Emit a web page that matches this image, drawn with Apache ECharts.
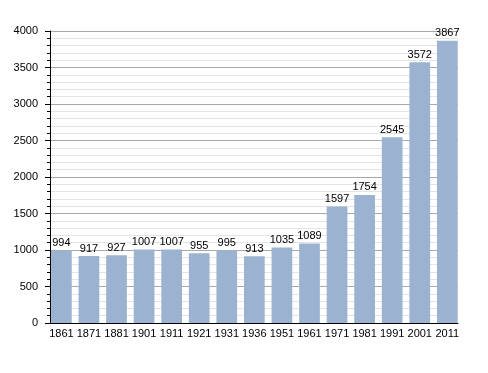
<!DOCTYPE html>
<html>
<head>
<meta charset="utf-8">
<script src="https://cdn.jsdelivr.net/npm/echarts@6/dist/echarts.min.js"></script>
<style>html,body{margin:0;padding:0;background:#fff}#c{width:488px;height:373px}</style>
</head>
<body>
<div id="c"></div>
<script>
const categories = ['1861','1871','1881','1901','1911','1921','1931','1936','1951','1961','1971','1981','1991','2001','2011'];
const population = [994, 917, 927, 1007, 1007, 955, 995, 913, 1035, 1089, 1597, 1754, 2545, 3572, 3867];
const yMin = 0, yMax = 4000, yStep = 500;

const chart = echarts.init(document.getElementById('c'), null, {renderer: 'canvas'});
const font = 'Liberation Sans, Arial, sans-serif';
chart.setOption({
  animation: false,
  backgroundColor: '#fff',
  grid: [
    {left: 50, top: 31, width: 408, height: 292},
    {left: 47.6, top: 31, width: 413.5, height: 292}
  ],
  xAxis: [
    {gridIndex: 0, type: 'category', data: categories, boundaryGap: true,
     axisLine: {show: true, lineStyle: {color: '#000', width: 1}},
     axisTick: {show: false}, axisLabel: {show: false}, splitLine: {show: false}},
    {gridIndex: 1, type: 'category', data: categories,
     axisLine: {show: false}, axisTick: {show: false},
     axisLabel: {show: true, color: '#000', fontSize: 11, fontFamily: font, margin: 5, interval: 0}}
  ],
  yAxis: [
    {gridIndex: 0, type: 'value', min: yMin, max: yMax, interval: yStep,
     axisLine: {show: true, lineStyle: {color: '#000', width: 1}},
     axisTick: {show: true, length: 5, lineStyle: {color: '#000'}},
     minorTick: {show: true, splitNumber: 5, length: 3, lineStyle: {color: '#000'}},
     axisLabel: {color: '#000', fontSize: 11, fontFamily: font, margin: 12,
                 formatter: function (v) { return String(v); }},
     splitLine: {show: true, lineStyle: {color: '#a8a8a8', width: 1}},
     minorSplitLine: {show: true, lineStyle: {color: '#e4e4e4', width: 1}}},
    {gridIndex: 1, type: 'value', min: yMin, max: yMax, interval: yStep, show: false,
     splitLine: {show: false}}
  ],
  series: [{
    type: 'bar', xAxisIndex: 1, yAxisIndex: 1,
    data: population, barWidth: 20.7,
    itemStyle: {color: '#9bb3d0'},
    label: {show: true, position: 'top', distance: 2, color: '#000', fontSize: 11, fontFamily: font}
  }]
});
</script>
</body>
</html>
